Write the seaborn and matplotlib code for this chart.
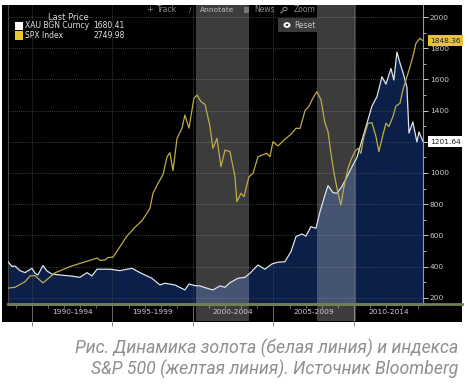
import matplotlib
matplotlib.use("Agg")
import matplotlib.pyplot as plt
import matplotlib.transforms as mtransforms
from matplotlib.patches import Rectangle, Circle
from matplotlib.lines import Line2D
import seaborn as sns

# ---------------- data ----------------
gold_years = [1988.51, 1988.76, 1988.94, 1989.25, 1989.57, 1990.00, 1990.19, 1990.37,
              1990.68, 1990.93, 1991.24, 1991.74, 1992.36, 1992.98, 1993.42, 1993.73,
              1994.04, 1994.84, 1995.47, 1996.21, 1996.71, 1997.45, 1997.95, 1998.26,
              1998.88, 1999.50, 1999.75, 2000.12, 2000.43, 2000.87, 2001.24, 2001.68,
              2001.99, 2002.30, 2002.80, 2003.23, 2003.54, 2004.04, 2004.47, 2004.91,
              2005.28, 2005.71, 2006.09, 2006.40, 2006.77, 2007.02, 2007.33, 2007.64,
              2007.89, 2008.20, 2008.39, 2008.70, 2008.94, 2009.25, 2009.57, 2009.88,
              2010.19, 2010.43, 2010.81, 2011.12, 2011.43, 2011.74, 2011.99, 2012.30,
              2012.48, 2012.67, 2012.86, 2013.04, 2013.29, 2013.42, 2013.66, 2013.91,
              2014.04, 2014.29]
gold_values = [431, 400, 404, 374, 361, 389, 357, 346,
               406, 372, 352, 346, 340, 331, 361, 340,
               383, 383, 374, 389, 361, 325, 282, 293,
               282, 250, 288, 278, 276, 261, 250, 276,
               267, 297, 325, 331, 357, 410, 383, 417,
               428, 431, 496, 592, 609, 595, 656, 645,
               752, 859, 919, 874, 870, 912, 976, 1040,
               1100, 1186, 1319, 1429, 1489, 1617, 1569, 1670,
               1596, 1775, 1705, 1647, 1551, 1256, 1327, 1199,
               1263, 1201.64]

spx_years = [1988.51, 1988.94, 1989.57, 1989.88, 1990.19, 1990.68, 1991.43, 1991.86,
             1992.36, 1992.98, 1993.60, 1994.04, 1994.22, 1994.53, 1994.72, 1995.03,
             1995.47, 1995.90, 1996.40, 1996.83, 1997.14, 1997.33, 1997.52, 1997.83,
             1998.14, 1998.39, 1998.57, 1998.76, 1999.01, 1999.32, 1999.50, 1999.75,
             2000.06, 2000.25, 2000.50, 2000.75, 2001.06, 2001.24, 2001.49, 2001.74,
             2001.99, 2002.30, 2002.61, 2002.73, 2002.98, 2003.17, 2003.48, 2003.73,
             2004.04, 2004.29, 2004.60, 2004.78, 2004.97, 2005.28, 2005.71, 2006.15,
             2006.40, 2006.65, 2006.96, 2007.20, 2007.45, 2007.70, 2007.95, 2008.20,
             2008.39, 2008.57, 2008.76, 2009.01, 2009.19, 2009.38, 2009.63, 2009.81,
             2010.06, 2010.25, 2010.43, 2010.62, 2010.87, 2011.12, 2011.37, 2011.55,
             2011.80, 2011.99, 2012.17, 2012.42, 2012.61, 2012.86, 2013.04, 2013.23,
             2013.42, 2013.66, 2013.85, 2014.10, 2014.29]
spx_values = [262, 267, 303, 340, 342, 295, 360, 378,
              400, 420, 440, 455, 440, 442, 458, 460,
              528, 596, 652, 694, 742, 774, 870, 934,
              990, 1104, 1130, 1015, 1222, 1287, 1372, 1287,
              1479, 1500, 1457, 1440, 1297, 1158, 1222, 1040,
              1147, 1137, 976, 816, 870, 848, 976, 998,
              1104, 1115, 1126, 1104, 1201, 1173, 1216, 1254,
              1287, 1285, 1400, 1426, 1480, 1521, 1470, 1320,
              1265, 1126, 1000, 870, 795, 912, 1030, 1083,
              1137, 1158, 1126, 1233, 1319, 1322, 1233, 1137,
              1244, 1319, 1297, 1361, 1429, 1447, 1532, 1596,
              1660, 1745, 1831, 1863, 1848.36]

period_starts = [1990, 1995, 2000, 2005, 2010]
period_labels = ["1990-1994", "1995-1999", "2000-2004", "2005-2009", "2010-2014"]
band_ranges = [(2000.2, 2003.5), (2007.7, 2010.1)]
y_ticks = [200, 400, 600, 800, 1000, 1200, 1400, 1600, 1800, 2000]
y_tick_labels = ["200", "400", "600", "800", "1000", "", "1400", "1600", "1800", "2000"]
legend_title = "Last Price"
legend_names = ["XAU BGN Curncy", "SPX Index"]
legend_values = ["1680.41", "2749.98"]
toolbar_items = ["Track", "Annotate", "News", "Zoom", "Reset"]
caption_lines = ["Рис. Динамика золота (белая линия) и индекса",
                 "S&P 500 (желтая линия). Источник Bloomberg"]

# ---------------- colours ----------------
GOLD_LINE = "#dde3ee"
GOLD_FILL = "#0b1f48"
SPX_LINE = "#bcad47"
SPX_BOX = "#e9c62b"
TXT = "#c9c9c9"

# ---------------- figure ----------------
W, H = 469, 384
fig = plt.figure(figsize=(W / 100, H / 100), dpi=100)
fig.patch.set_facecolor("white")


def fx(x):
    return x / W


def fy(y):
    return 1 - y / H


fig.add_artist(Rectangle((fx(2), fy(322)), fx(460), (322 - 5) / H,
                         transform=fig.transFigure, facecolor="black",
                         edgecolor="none", zorder=-10))

ax = fig.add_axes([fx(8), fy(304), fx(423) - fx(8), (304 - 5) / H])
ax.set_facecolor("black")
ax.set_axisbelow(False)

XMIN, XMAX = 1988.51, 2014.29
YMIN, YMAX = 160, 2077
ax.set_xlim(XMIN, XMAX)
ax.set_ylim(YMIN, YMAX)

ax.fill_between(gold_years, gold_values, YMIN, color=GOLD_FILL, lw=0, zorder=1)
sns.lineplot(x=gold_years, y=gold_values, color=GOLD_LINE, lw=0.9, ax=ax,
             sort=False, zorder=4)
sns.lineplot(x=spx_years, y=spx_values, color=SPX_LINE, lw=0.9, ax=ax,
             sort=False, zorder=5)

below = -(321 - 304) / (304 - 5)
for a, b in band_ranges:
    ax.axvspan(a, b, ymin=below, ymax=1, facecolor="white", alpha=0.24, lw=0,
               zorder=3, clip_on=False)

# grid / ticks
ax.set_xticks(period_starts)
ax.set_xticks(list(range(1989, 2015)), minor=True)
ax.set_xticklabels([])
ax.set_yticks(y_ticks)
ax.set_yticks(list(range(300, 2000, 200)), minor=True)
ax.set_yticklabels(y_tick_labels)
ax.yaxis.tick_right()
ax.grid(True, which="major", linestyle=(0, (1, 1.5)), color="#4f4f4f", lw=0.6)
ax.tick_params(axis="x", which="major", length=16, width=0.6, color="#7a7a7a",
               direction="out")
ax.tick_params(axis="x", which="minor", length=3, width=0.6, color="#7a7a7a",
               direction="out")
ax.tick_params(axis="y", which="major", length=3.5, width=0.7, colors=TXT,
               labelsize=5.4, pad=1.5)
ax.tick_params(axis="y", which="minor", length=2, width=0.6, colors=TXT)
ax.set_xlabel("")
ax.set_ylabel("")

ax.spines["top"].set_visible(False)
ax.spines["right"].set_color("#9a9a9a")
ax.spines["right"].set_linewidth(0.8)
ax.spines["left"].set_color("#444444")
ax.spines["left"].set_linewidth(0.8)
ax.spines["bottom"].set_color("#6f7f50")
ax.spines["bottom"].set_linewidth(2)
ax.axhline(YMIN, xmin=0, xmax=(462 - 8) / (423 - 8), color="#6f7f50", lw=2,
           clip_on=False, zorder=6)

# period labels centred on the visible part of each period
blend = mtransforms.blended_transform_factory(ax.transData, ax.transAxes)
for start, lab in zip(period_starts, period_labels):
    lo, hi = max(start, XMIN), min(start + 5, XMAX)
    ax.text((lo + hi) / 2, -(312 - 304) / (304 - 5), lab, transform=blend,
            ha="center", va="center", color=TXT, fontsize=5.4, zorder=7)

# last value boxes
ax.annotate(f"{spx_values[-1]:.2f}", xy=(1, spx_values[-1]),
            xycoords=("axes fraction", "data"), xytext=(7, 0),
            textcoords="offset pixels", ha="left", va="center", fontsize=5.4,
            color="#202020", annotation_clip=False, zorder=10,
            bbox=dict(boxstyle="square,pad=0.3", fc=SPX_BOX, ec="none"))
ax.annotate(f"{gold_values[-1]:.2f}", xy=(1, gold_values[-1]),
            xycoords=("axes fraction", "data"), xytext=(7, 0),
            textcoords="offset pixels", ha="left", va="center", fontsize=5.4,
            color="#202020", annotation_clip=False, zorder=10,
            bbox=dict(boxstyle="square,pad=0.3", fc="white", ec="none"))

# legend
fig.text(fx(48), fy(17), legend_title, color="#d5d5d5", fontsize=6,
         ha="left", va="center")
for i, (name, val, col) in enumerate(zip(legend_names, legend_values,
                                         ["white", SPX_BOX])):
    yc = 26 + i * 9.5
    fig.add_artist(Rectangle((fx(15), fy(yc + 4)), fx(8), 8 / H,
                             transform=fig.transFigure, facecolor=col,
                             edgecolor="none"))
    fig.text(fx(25), fy(yc), name, color="#e2e2e2", fontsize=5.5,
             ha="left", va="center")
    fig.text(fx(93), fy(yc), val, color="#e2e2e2", fontsize=5.5,
             ha="left", va="center")

# toolbar
TB = "#8c8c8c"
fig.text(fx(146), fy(10), "+", color=TB, fontsize=6, ha="left", va="center")
fig.text(fx(157), fy(10), toolbar_items[0], color=TB, fontsize=5.5, ha="left", va="center")
fig.text(fx(189), fy(10), "/", color=TB, fontsize=5, ha="left", va="center")
fig.text(fx(200), fy(10), toolbar_items[1], color="#bdbdbd", fontsize=5.4, ha="left", va="center")
fig.add_artist(Rectangle((fx(244), fy(13)), fx(5), 6 / H, transform=fig.transFigure,
                         facecolor="#777777", edgecolor="none"))
fig.text(fx(254), fy(10), toolbar_items[2], color=TB, fontsize=5.5, ha="left", va="center")
fig.add_artist(Circle((fx(285), fy(9)), 0.0045, transform=fig.transFigure,
                      facecolor="none", edgecolor=TB, lw=0.7))
fig.add_artist(Line2D([fx(283), fx(281)], [fy(11), fy(13)], transform=fig.transFigure,
                      color=TB, lw=0.8))
fig.text(fx(294), fy(10), toolbar_items[3], color=TB, fontsize=5.5, ha="left", va="center")
fig.add_artist(Rectangle((fx(278), fy(32)), fx(40), 14 / H, transform=fig.transFigure,
                         facecolor="#3a3a3a", edgecolor="none"))
fig.add_artist(Circle((fx(287), fy(25)), 0.0075, transform=fig.transFigure,
                      facecolor="white", edgecolor="none"))
fig.add_artist(Circle((fx(287), fy(25)), 0.003, transform=fig.transFigure,
                      facecolor="#3a3a3a", edgecolor="none"))
fig.text(fx(294), fy(25), toolbar_items[4], color="#c4c4c4", fontsize=5.5,
         ha="left", va="center")

# caption
for i, line in enumerate(caption_lines):
    fig.text(fx(458), fy(348 + i * 21), line, ha="right", va="center",
             fontsize=12.7, color="#8f8f8f", fontstyle="italic",
             fontweight="normal", family=["Roboto", "DejaVu Sans"])

fig.savefig("out.png", dpi=100)
